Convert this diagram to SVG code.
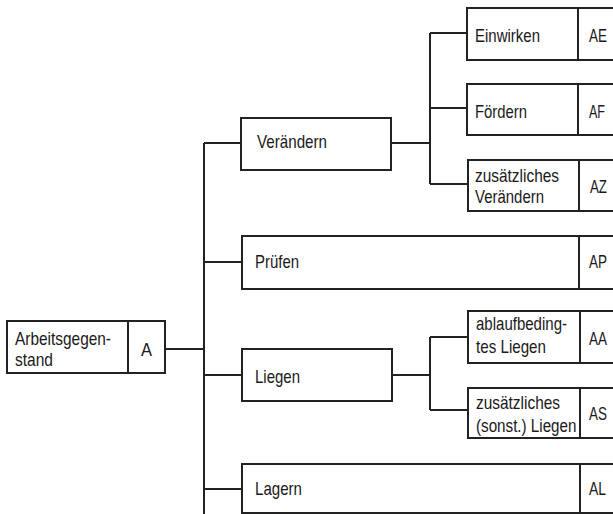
<svg xmlns="http://www.w3.org/2000/svg" width="613" height="514" viewBox="0 0 613 514">
<style>
.b{fill:#fff;stroke:#222;stroke-width:2}
.d{stroke:#222;stroke-width:2}
.c{fill:none;stroke:#222;stroke-width:2}
text{font-family:"Liberation Sans",Arial,sans-serif;font-size:19px;fill:#1a1a1a}
</style>
<rect width="613" height="514" fill="#fff"/>
<g id="connectors">
<path class="c" d="M165,349H204M204,143V514M204,143H241M204,262H242M204,375H242M204,489H242"/>
<path class="c" d="M391,143H430M430,33V184M430,33H467M430,108H467M430,184H468"/>
<path class="c" d="M392,375H430M430,337V410M430,337H468M430,410H468"/>
</g>
<g id="A">
<rect class="b" x="7" y="321" width="158" height="52"/>
<line class="d" x1="128" y1="321" x2="128" y2="373"/>
<text x="15" y="345" textLength="96" lengthAdjust="spacingAndGlyphs">Arbeitsgegen-</text>
<text x="15" y="366" textLength="38" lengthAdjust="spacingAndGlyphs">stand</text>
<text x="141" y="356" textLength="11" lengthAdjust="spacingAndGlyphs">A</text>
</g>
<g id="veraendern">
<rect class="b" x="241" y="118" width="150" height="52"/>
<text x="257" y="148" textLength="70" lengthAdjust="spacingAndGlyphs">Verändern</text>
</g>
<g id="einwirken">
<rect class="b" x="467" y="8" width="160" height="52"/>
<line class="d" x1="578" y1="8" x2="578" y2="60"/>
<text x="475" y="42" textLength="65" lengthAdjust="spacingAndGlyphs">Einwirken</text>
<text x="589" y="42" textLength="18" lengthAdjust="spacingAndGlyphs">AE</text>
</g>
<g id="foerdern">
<rect class="b" x="467" y="84" width="160" height="51"/>
<line class="d" x1="578" y1="84" x2="578" y2="135"/>
<text x="475" y="118" textLength="52" lengthAdjust="spacingAndGlyphs">Fördern</text>
<text x="589" y="118" textLength="16" lengthAdjust="spacingAndGlyphs">AF</text>
</g>
<g id="zus-veraendern">
<rect class="b" x="468" y="160" width="160" height="51"/>
<line class="d" x1="579" y1="160" x2="579" y2="211"/>
<text x="475" y="182" textLength="84" lengthAdjust="spacingAndGlyphs">zusätzliches</text>
<text x="475" y="203" textLength="69" lengthAdjust="spacingAndGlyphs">Verändern</text>
<text x="590" y="193" textLength="17" lengthAdjust="spacingAndGlyphs">AZ</text>
</g>
<g id="pruefen">
<rect class="b" x="242" y="236" width="385" height="53"/>
<line class="d" x1="579" y1="236" x2="579" y2="289"/>
<text x="255" y="268" textLength="44" lengthAdjust="spacingAndGlyphs">Prüfen</text>
<text x="589" y="268" textLength="18" lengthAdjust="spacingAndGlyphs">AP</text>
</g>
<g id="liegen">
<rect class="b" x="242" y="349" width="150" height="52"/>
<text x="255" y="383" textLength="45" lengthAdjust="spacingAndGlyphs">Liegen</text>
</g>
<g id="ablauf-liegen">
<rect class="b" x="468" y="311" width="160" height="52"/>
<line class="d" x1="580" y1="311" x2="580" y2="363"/>
<text x="476" y="330" textLength="91" lengthAdjust="spacingAndGlyphs">ablaufbeding-</text>
<text x="476" y="353" textLength="70" lengthAdjust="spacingAndGlyphs">tes Liegen</text>
<text x="589" y="345" textLength="18" lengthAdjust="spacingAndGlyphs">AA</text>
</g>
<g id="zus-liegen">
<rect class="b" x="468" y="388" width="160" height="50"/>
<line class="d" x1="580" y1="388" x2="580" y2="438"/>
<text x="476" y="409" textLength="84" lengthAdjust="spacingAndGlyphs">zusätzliches</text>
<text transform="translate(476,432) scale(0.8,1)">(sonst.) Liegen</text>
<text x="589" y="420" textLength="18" lengthAdjust="spacingAndGlyphs">AS</text>
</g>
<g id="lagern">
<rect class="b" x="242" y="464" width="385" height="49"/>
<line class="d" x1="580" y1="464" x2="580" y2="513"/>
<text x="255" y="495" textLength="47" lengthAdjust="spacingAndGlyphs">Lagern</text>
<text x="589" y="495" textLength="17" lengthAdjust="spacingAndGlyphs">AL</text>
</g>
</svg>
